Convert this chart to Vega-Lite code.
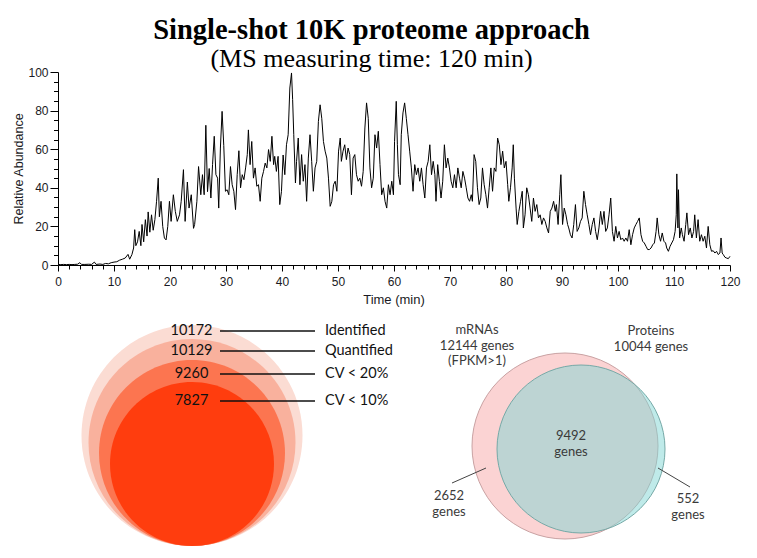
{
  "$schema": "https://vega.github.io/schema/vega-lite/v6.json",
  "width": 757,
  "height": 558,
  "autosize": {"type": "none"},
  "padding": 0,
  "background": "white",
  "config": {"view": {"stroke": null}, "font": "Lato"},
  "title": {
    "text": "Single-shot 10K proteome approach",
    "subtitle": "(MS measuring time: 120 min)",
    "font": "Liberation Serif",
    "fontSize": 28.5,
    "fontWeight": "bold",
    "color": "black",
    "subtitleFont": "Liberation Serif",
    "subtitleFontSize": 26,
    "subtitleColor": "black",
    "subtitlePadding": 2,
    "anchor": "middle",
    "frame": "group",
    "offset": -72,
    "dx": -7
  },
  "resolve": {"scale": {"x": "independent", "y": "independent", "size": "independent", "fill": "independent", "stroke": "independent"}},
  "layer": [
    {
      "data": {"values": [
        {"t":0,"v":0.3},{"t":0.5,"v":0.2},{"t":1,"v":0.3},{"t":1.5,"v":0.2},{"t":2,"v":0.3},{"t":2.5,"v":0.2},{"t":3,"v":0.3},{"t":3.5,"v":0.4},{"t":3.9,"v":1.2},{"t":4.2,"v":0.3},
        {"t":4.8,"v":0.3},{"t":5.5,"v":0.4},{"t":6,"v":0.3},{"t":6.5,"v":1.5},{"t":6.8,"v":0.3},{"t":7.5,"v":0.5},{"t":8,"v":0.3},{"t":8.5,"v":0.8},{"t":9,"v":0.6},{"t":9.5,"v":1.2},
        {"t":10,"v":1.5},{"t":10.5,"v":1.7},{"t":11,"v":2.5},{"t":11.5,"v":3},{"t":12,"v":3.6},{"t":12.5,"v":5.5},{"t":12.8,"v":3},{"t":13.2,"v":5.4},{"t":13.5,"v":8.8},{"t":13.7,"v":18.3},
        {"t":13.9,"v":10},{"t":14.2,"v":12},{"t":14.5,"v":17.4},{"t":14.8,"v":10},{"t":15,"v":21},{"t":15.3,"v":12},{"t":15.6,"v":23.5},{"t":15.9,"v":15},{"t":16.1,"v":27.5},{"t":16.4,"v":17},
        {"t":16.7,"v":26},{"t":17,"v":18},{"t":17.3,"v":23.5},{"t":17.6,"v":33},{"t":17.9,"v":45},{"t":18.1,"v":25},{"t":18.4,"v":33},{"t":18.7,"v":20},{"t":19,"v":14},{"t":19.3,"v":13},
        {"t":19.6,"v":20},{"t":19.9,"v":33},{"t":20.2,"v":22.6},{"t":20.6,"v":36.4},{"t":20.95,"v":27.8},{"t":21.3,"v":22.6},{"t":21.7,"v":26},{"t":22,"v":33},{"t":22.4,"v":49.4},{"t":22.7,"v":22.6},
        {"t":23.1,"v":43},{"t":23.4,"v":29.5},{"t":23.8,"v":36.4},{"t":24.2,"v":19},{"t":24.4,"v":21},{"t":24.8,"v":33},{"t":25.1,"v":51},{"t":25.5,"v":36.4},{"t":25.8,"v":46.8},{"t":26.1,"v":36.4},
        {"t":26.4,"v":72.4},{"t":26.7,"v":38},{"t":27,"v":50},{"t":27.3,"v":34.7},{"t":27.6,"v":52},{"t":27.9,"v":66.7},{"t":28.2,"v":46.8},{"t":28.5,"v":45},{"t":28.7,"v":29.5},{"t":29,"v":60.6},
        {"t":29.3,"v":79.6},{"t":29.6,"v":62},{"t":29.9,"v":38.2},{"t":30.2,"v":39},{"t":30.5,"v":36.4},{"t":30.8,"v":51},{"t":31.1,"v":41.6},{"t":31.4,"v":38.2},{"t":31.7,"v":28.7},{"t":32,"v":46.8},
        {"t":32.3,"v":59.2},{"t":32.6,"v":40},{"t":32.9,"v":46.8},{"t":33.2,"v":44.2},{"t":33.5,"v":50.3},{"t":33.8,"v":57.2},{"t":34,"v":70},{"t":34.3,"v":52},{"t":34.6,"v":64},{"t":34.9,"v":45},
        {"t":35.2,"v":50.3},{"t":35.5,"v":40.8},{"t":35.8,"v":41.6},{"t":36.1,"v":33},{"t":36.4,"v":45},{"t":36.7,"v":48.5},{"t":37,"v":52.8},{"t":37.3,"v":50.3},{"t":37.6,"v":59.8},{"t":37.9,"v":53.7},
        {"t":38.2,"v":66.7},{"t":38.5,"v":52},{"t":38.7,"v":56.3},{"t":39,"v":48.5},{"t":39.3,"v":56.3},{"t":39.6,"v":31.3},{"t":39.9,"v":38},{"t":40.2,"v":57},{"t":40.5,"v":46.8},{"t":40.8,"v":62.3},
        {"t":41.1,"v":67.5},{"t":41.4,"v":91.7},{"t":41.7,"v":99.5},{"t":41.9,"v":85.7},{"t":42.1,"v":67.5},{"t":42.4,"v":42.5},{"t":42.6,"v":53.7},{"t":42.9,"v":65.8},{"t":43.2,"v":41.6},{"t":43.5,"v":57.2},
        {"t":43.8,"v":43.4},{"t":44.1,"v":52},{"t":44.4,"v":33},{"t":44.7,"v":55.4},{"t":45,"v":67.5},{"t":45.3,"v":53.7},{"t":45.6,"v":38.2},{"t":45.9,"v":50.3},{"t":46.2,"v":53.7},{"t":46.5,"v":74.4},
        {"t":46.8,"v":83},{"t":47.1,"v":76},{"t":47.4,"v":64},{"t":47.7,"v":59},{"t":48,"v":55.4},{"t":48.3,"v":45},{"t":48.6,"v":30.4},{"t":48.9,"v":33},{"t":49.2,"v":41.6},{"t":49.5,"v":43.4},
        {"t":49.8,"v":38.2},{"t":50.1,"v":59},{"t":50.4,"v":65.8},{"t":50.6,"v":53.7},{"t":50.9,"v":59},{"t":51.2,"v":62.3},{"t":51.5,"v":54.6},{"t":51.8,"v":60.6},{"t":52.1,"v":57.2},{"t":52.4,"v":36.4},
        {"t":52.7,"v":55.4},{"t":53,"v":57.2},{"t":53.3,"v":46.8},{"t":53.6,"v":43.4},{"t":53.9,"v":45},{"t":54.2,"v":40.8},{"t":54.5,"v":48.5},{"t":54.8,"v":71},{"t":55.1,"v":84},{"t":55.4,"v":76},
        {"t":55.7,"v":50.3},{"t":56,"v":40},{"t":56.3,"v":45},{"t":56.6,"v":67.5},{"t":56.9,"v":60.6},{"t":57.2,"v":69.3},{"t":57.5,"v":52},{"t":57.8,"v":36.4},{"t":58.1,"v":40},{"t":58.4,"v":33},
        {"t":58.7,"v":29.5},{"t":59,"v":41.6},{"t":59.3,"v":36.4},{"t":59.6,"v":43.4},{"t":59.9,"v":36.4},{"t":60.1,"v":64},{"t":60.4,"v":84.8},{"t":60.6,"v":62.3},{"t":60.8,"v":46.8},{"t":61.1,"v":41.6},
        {"t":61.3,"v":67.5},{"t":61.6,"v":78.8},{"t":61.9,"v":84},{"t":62.2,"v":76},{"t":62.5,"v":67.5},{"t":62.8,"v":59},{"t":63.1,"v":50.3},{"t":63.4,"v":38.2},{"t":63.7,"v":52},{"t":64,"v":46.8},
        {"t":64.3,"v":50.3},{"t":64.6,"v":43.4},{"t":64.9,"v":50.3},{"t":65.2,"v":41.6},{"t":65.5,"v":34.7},{"t":65.8,"v":50.3},{"t":66.1,"v":53.7},{"t":66.4,"v":62.3},{"t":66.7,"v":46.8},{"t":67,"v":53.7},
        {"t":67.3,"v":46.8},{"t":67.5,"v":33},{"t":67.8,"v":52},{"t":68.1,"v":43.4},{"t":68.4,"v":34.7},{"t":68.7,"v":43.4},{"t":69,"v":62.3},{"t":69.3,"v":50.3},{"t":69.6,"v":55.4},{"t":69.9,"v":50.3},
        {"t":70.2,"v":43.4},{"t":70.5,"v":40},{"t":70.8,"v":46.8},{"t":71.1,"v":40},{"t":71.4,"v":50.3},{"t":71.7,"v":45},{"t":72,"v":40},{"t":72.3,"v":48.5},{"t":72.6,"v":45},{"t":72.9,"v":40},
        {"t":73.2,"v":34.7},{"t":73.5,"v":33},{"t":73.8,"v":36.4},{"t":74,"v":33},{"t":74.3,"v":57.2},{"t":74.6,"v":53.7},{"t":74.9,"v":40},{"t":75.2,"v":31.3},{"t":75.5,"v":34.7},{"t":75.8,"v":50.3},
        {"t":76.1,"v":41.6},{"t":76.4,"v":36.4},{"t":76.7,"v":29.5},{"t":77,"v":40},{"t":77.3,"v":50.3},{"t":77.6,"v":38.2},{"t":77.9,"v":50.3},{"t":78.2,"v":48.5},{"t":78.5,"v":65.8},{"t":78.8,"v":62.3},
        {"t":79.1,"v":52},{"t":79.4,"v":59},{"t":79.7,"v":50.3},{"t":80,"v":53.7},{"t":80.3,"v":41.6},{"t":80.5,"v":33},{"t":80.8,"v":40},{"t":81.1,"v":50.3},{"t":81.3,"v":62.3},{"t":81.5,"v":45},
        {"t":81.8,"v":29.5},{"t":82,"v":21},{"t":82.3,"v":27.8},{"t":82.6,"v":33},{"t":82.9,"v":38.2},{"t":83.1,"v":19.2},{"t":83.4,"v":26},{"t":83.7,"v":40},{"t":84,"v":36.4},{"t":84.3,"v":29.5},
        {"t":84.6,"v":22.6},{"t":84.9,"v":34.7},{"t":85.2,"v":27.8},{"t":85.5,"v":31.3},{"t":85.8,"v":24.4},{"t":86.1,"v":26},{"t":86.4,"v":21},{"t":86.7,"v":24.4},{"t":87,"v":22.6},{"t":87.3,"v":19.2},
        {"t":87.6,"v":16.6},{"t":87.9,"v":27.8},{"t":88.2,"v":29.5},{"t":88.5,"v":33},{"t":88.8,"v":27.8},{"t":89,"v":31.3},{"t":89.3,"v":21},{"t":89.6,"v":36.4},{"t":89.8,"v":46.8},{"t":90.1,"v":21},
        {"t":90.4,"v":29.5},{"t":90.7,"v":26},{"t":91,"v":21},{"t":91.2,"v":19.2},{"t":91.5,"v":15.7},{"t":91.8,"v":14},{"t":92.1,"v":21},{"t":92.4,"v":31.3},{"t":92.7,"v":17.4},{"t":93,"v":19.2},
        {"t":93.3,"v":22.6},{"t":93.6,"v":24.4},{"t":93.9,"v":38.2},{"t":94.2,"v":31.3},{"t":94.5,"v":26},{"t":94.8,"v":21},{"t":95.1,"v":15.7},{"t":95.4,"v":21},{"t":95.7,"v":24.4},{"t":96,"v":17.4},
        {"t":96.3,"v":13.1},{"t":96.6,"v":19.2},{"t":96.9,"v":27.8},{"t":97.2,"v":21},{"t":97.5,"v":27.8},{"t":97.8,"v":17.4},{"t":98.1,"v":19.2},{"t":98.4,"v":26},{"t":98.7,"v":34.7},{"t":99,"v":17.4},
        {"t":99.3,"v":12.3},{"t":99.6,"v":20},{"t":99.9,"v":14},{"t":100.2,"v":17.4},{"t":100.5,"v":13.1},{"t":100.8,"v":14},{"t":101.1,"v":12.3},{"t":101.4,"v":14},{"t":101.7,"v":12.3},{"t":102,"v":18.3},
        {"t":102.3,"v":10.5},{"t":102.6,"v":15.7},{"t":102.9,"v":19.2},{"t":103.2,"v":21},{"t":103.5,"v":22.6},{"t":103.8,"v":24.4},{"t":104.1,"v":15.7},{"t":104.4,"v":12.3},{"t":104.7,"v":11.4},{"t":105,"v":9.7},
        {"t":105.3,"v":8},{"t":105.6,"v":8},{"t":105.9,"v":8.8},{"t":106.2,"v":10.5},{"t":106.5,"v":11.4},{"t":106.8,"v":17.4},{"t":107,"v":24.4},{"t":107.3,"v":15.7},{"t":107.6,"v":12.3},{"t":107.9,"v":16.6},
        {"t":108.2,"v":12.3},{"t":108.5,"v":11.4},{"t":108.7,"v":8.8},{"t":109,"v":7.1},{"t":109.3,"v":9.7},{"t":109.6,"v":11.4},{"t":109.9,"v":13.1},{"t":110.2,"v":17.4},{"t":110.4,"v":26},{"t":110.5,"v":47.2},
        {"t":110.7,"v":19.2},{"t":110.8,"v":39},{"t":111,"v":14},{"t":111.3,"v":19.2},{"t":111.5,"v":15.7},{"t":111.8,"v":12.3},{"t":112.1,"v":21},{"t":112.3,"v":27},{"t":112.6,"v":15.7},{"t":112.9,"v":19.2},
        {"t":113.2,"v":14},{"t":113.5,"v":17.4},{"t":113.7,"v":26},{"t":114,"v":14},{"t":114.3,"v":23.5},{"t":114.6,"v":12.3},{"t":114.9,"v":15.7},{"t":115.2,"v":12.3},{"t":115.5,"v":14.9},{"t":115.8,"v":8.8},
        {"t":116.1,"v":20},{"t":116.4,"v":10.5},{"t":116.7,"v":7.1},{"t":117,"v":7.4},{"t":117.3,"v":6.2},{"t":117.6,"v":7.1},{"t":117.9,"v":5.4},{"t":118.2,"v":6.2},{"t":118.4,"v":14},{"t":118.6,"v":6.2},
        {"t":118.8,"v":5.4},{"t":119.1,"v":4},{"t":119.4,"v":3.6},{"t":119.7,"v":3.3},{"t":120,"v":4.5}
      ]},
      "mark": {"type": "line", "color": "black", "strokeWidth": 1},
      "encoding": {
        "x": {
          "field": "t", "type": "quantitative",
          "scale": {"domain": [0, 120], "range": [58, 730], "nice": false, "zero": false},
          "axis": {
            "orient": "bottom", "offset": -293, "grid": false,
            "values": [0,2,4,6,8,10,12,14,16,18,20,22,24,26,28,30,32,34,36,38,40,42,44,46,48,50,52,54,56,58,60,62,64,66,68,70,72,74,76,78,80,82,84,86,88,90,92,94,96,98,100,102,104,106,108,110,112,114,116,118,120],
            "labelExpr": "datum.value % 10 === 0 ? datum.label : ''",
            "tickSize": {"condition": {"test": "datum.value % 10 === 0", "value": 6}, "value": 4},
            "labelPadding": 5, "labelFlush": false, "labelOverlap": false,
            "labelFont": "Liberation Sans", "labelFontSize": 12, "labelColor": "#1a1a24",
            "domainColor": "black", "tickColor": "black", "domainWidth": 1, "tickWidth": 1,
            "title": "Time (min)", "titleFont": "Liberation Sans", "titleFontSize": 13, "titleFontWeight": "normal", "titleColor": "#1a1a24",
            "titleX": 393.5, "titleY": 34, "titleBaseline": "middle", "titleAlign": "center"
          }
        },
        "y": {
          "field": "v", "type": "quantitative",
          "scale": {"domain": [0, 100], "range": [265, 72], "nice": false, "zero": false},
          "axis": {
            "orient": "left", "offset": -58, "grid": false,
            "values": [0,5,10,15,20,25,30,35,40,45,50,55,60,65,70,75,80,85,90,95,100],
            "labelExpr": "datum.value % 20 === 0 ? datum.label : ''",
            "tickSize": {"condition": {"test": "datum.value % 20 === 0", "value": 8}, "value": 4.5},
            "labelPadding": 2, "labelFlush": false, "labelOverlap": false,
            "labelFont": "Liberation Sans", "labelFontSize": 12, "labelColor": "#1a1a24",
            "domainColor": "black", "tickColor": "black", "domainWidth": 1, "tickWidth": 1,
            "title": "Relative Abundance", "titleFont": "Liberation Sans", "titleFontSize": 12.5, "titleFontWeight": "normal", "titleColor": "#1a1a24",
            "titleX": -40, "titleY": 168.5, "titleAngle": 270, "titleBaseline": "middle", "titleAlign": "center"
          }
        }
      }
    },
    {
      "data": {"values": [
        {"set": "Identified", "n": 10172},
        {"set": "Quantified", "n": 10129},
        {"set": "CV < 20%", "n": 9260},
        {"set": "CV < 10%", "n": 7827}
      ]},
      "mark": {"type": "point", "filled": true, "opacity": 1, "strokeWidth": 0,
        "shape": "M0,0C0.5523,0 1,-0.4477 1,-1C1,-1.5523 0.5523,-2 0,-2C-0.5523,-2 -1,-1.5523 -1,-1C-1,-0.4477 -0.5523,0 0,0Z"},
      "encoding": {
        "x": {"datum": 0, "type": "quantitative", "scale": {"domain": [-1, 1], "range": [81, 303]}, "axis": null},
        "y": {"datum": 0, "type": "quantitative", "scale": {"domain": [0, 1], "range": [546, 325]}, "axis": null},
        "size": {"field": "n", "type": "quantitative", "scale": {"domain": [7827, 9260, 10129, 10172], "range": [26896, 34596, 42849, 48841], "zero": false}, "legend": null},
        "fill": {"field": "set", "type": "nominal", "scale": {"domain": ["Identified", "Quantified", "CV < 20%", "CV < 10%"], "range": ["#fbdcd3", "#f9b19d", "#fc7550", "#ff3d0e"]}, "legend": null}
      }
    },
    {
      "data": {"values": [
        {"set": "Identified", "n": 10172},
        {"set": "Quantified", "n": 10129},
        {"set": "CV < 20%", "n": 9260},
        {"set": "CV < 10%", "n": 7827}
      ]},
      "encoding": {
        "y": {"field": "n", "type": "quantitative", "scale": {"domain": [7827, 9260, 10129, 10172], "range": [401, 374, 351, 331], "zero": false, "nice": false}, "axis": null}
      },
      "layer": [
        {
          "mark": {"type": "text", "font": "Lato", "fontSize": 14.5, "color": "#111111", "align": "center", "baseline": "middle"},
          "encoding": {
            "x": {"datum": 0, "type": "quantitative", "scale": {"domain": [-1, 1], "range": [81, 302]}, "axis": null},
            "text": {"field": "n", "type": "quantitative", "format": "d"}
          }
        },
        {
          "mark": {"type": "rule", "color": "#111111", "strokeWidth": 1.3},
          "encoding": {
            "x": {"datum": 0, "type": "quantitative", "scale": {"domain": [0, 1], "range": [220, 315]}, "axis": null},
            "x2": {"datum": 1}
          }
        },
        {
          "mark": {"type": "text", "font": "Lato", "fontSize": 14.5, "color": "#111111", "align": "left", "baseline": "middle"},
          "encoding": {
            "x": {"datum": 0, "type": "quantitative", "scale": {"domain": [0, 1], "range": [325, 425]}, "axis": null},
            "text": {"field": "set", "type": "nominal"}
          }
        }
      ],
      "resolve": {"scale": {"x": "independent"}}
    },
    {
      "data": {"values": [
        {"set": "mRNAs", "genes": 12144},
        {"set": "Proteins", "genes": 10044}
      ]},
      "mark": {"type": "point", "shape": "circle", "filled": true, "opacity": 1, "strokeWidth": 1},
      "encoding": {
        "x": {"field": "genes", "type": "quantitative", "scale": {"domain": [10044, 12144], "range": [581, 565], "zero": false, "nice": false}, "axis": null},
        "y": {"field": "genes", "type": "quantitative", "scale": {"domain": [10044, 12144], "range": [449, 446], "zero": false, "nice": false}, "axis": null},
        "size": {"field": "genes", "type": "quantitative", "scale": {"domain": [10044, 12144], "range": [28224, 34596], "zero": false}, "legend": null},
        "fill": {"field": "set", "type": "nominal", "scale": {"domain": ["mRNAs", "Proteins"], "range": ["#fbd3d3", "rgba(127,214,211,0.5)"]}, "legend": null},
        "stroke": {"field": "set", "type": "nominal", "scale": {"domain": ["mRNAs", "Proteins"], "range": ["#c9a2a3", "#76a9a7"]}, "legend": null}
      }
    },
    {
      "data": {"values": [{}]},
      "mark": {"type": "rule", "color": "#444444", "strokeWidth": 1},
      "encoding": {
        "x": {"datum": 0, "type": "quantitative", "scale": {"domain": [0, 1], "range": [452, 486]}, "axis": null},
        "x2": {"datum": 1},
        "y": {"datum": 0, "type": "quantitative", "scale": {"domain": [0, 1], "range": [483, 468]}, "axis": null},
        "y2": {"datum": 1}
      }
    },
    {
      "data": {"values": [{}]},
      "mark": {"type": "rule", "color": "#444444", "strokeWidth": 1},
      "encoding": {
        "x": {"datum": 0, "type": "quantitative", "scale": {"domain": [0, 1], "range": [658, 690]}, "axis": null},
        "x2": {"datum": 1},
        "y": {"datum": 0, "type": "quantitative", "scale": {"domain": [0, 1], "range": [468, 487]}, "axis": null},
        "y2": {"datum": 1}
      }
    },
    {
      "data": {"values": [
        {"n": 12144, "label": "mRNAs\n12144 genes\n(FPKM>1)"},
        {"n": 10044, "label": "Proteins\n10044 genes"},
        {"n": 9492, "label": "9492\ngenes"},
        {"n": 2652, "label": "2652\ngenes"},
        {"n": 552, "label": "552\ngenes"}
      ]},
      "mark": {"type": "text", "font": "Lato", "fontSize": 13, "color": "#3a3a3a", "align": "center", "baseline": "alphabetic", "lineBreak": "\n", "lineHeight": 15.5},
      "encoding": {
        "x": {"field": "n", "type": "quantitative", "scale": {"domain": [552, 2652, 9492, 10044, 12144], "range": [688, 449, 571, 651, 477], "zero": false, "nice": false}, "axis": null},
        "y": {"field": "n", "type": "quantitative", "scale": {"domain": [552, 2652, 9492, 10044, 12144], "range": [503, 500, 440, 335, 334], "zero": false, "nice": false}, "axis": null},
        "text": {"field": "label", "type": "nominal"}
      }
    }
  ]
}
